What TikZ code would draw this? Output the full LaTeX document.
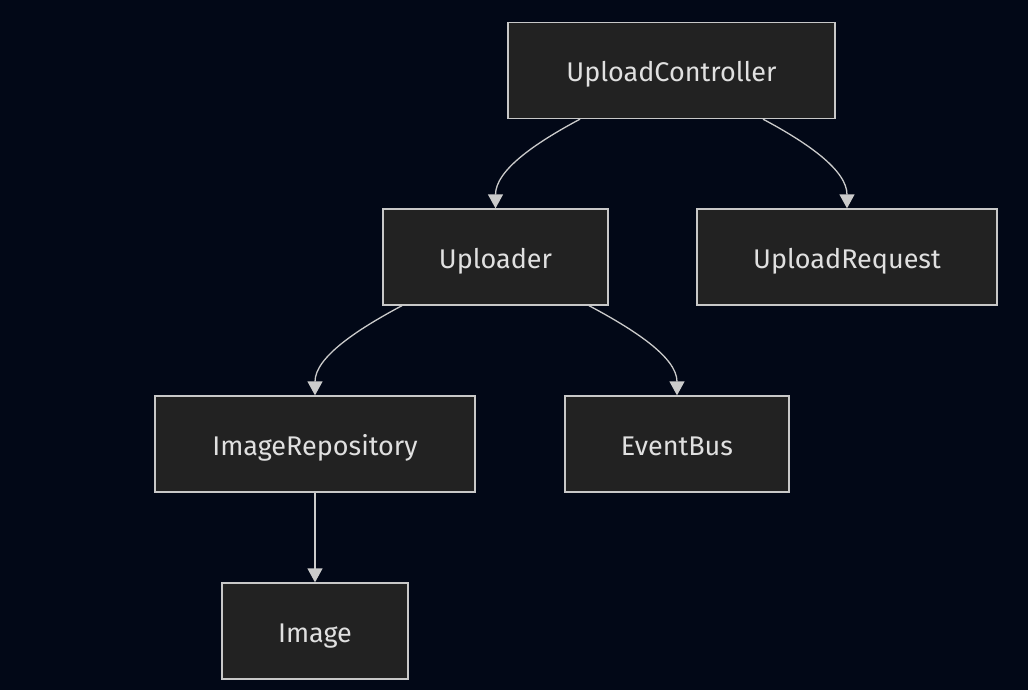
\documentclass[tikz,border=0pt]{standalone}
\usepackage{fontspec}
\setmainfont{Fira Sans}
\usetikzlibrary{arrows.meta,calc}
\definecolor{bg}{HTML}{020817}
\definecolor{boxfill}{HTML}{222222}
\definecolor{boxline}{HTML}{C8C8C8}
\definecolor{txt}{HTML}{E0E0E0}

\begin{document}
\begin{tikzpicture}[x=1pt,y=-1pt,
    cls/.style={draw=boxline,fill=boxfill,line width=1.3pt,minimum height=96pt,
      inner sep=0pt,text height=23pt,text depth=0pt,text=txt,font=\fontsize{27}{32}\selectfont},
    dep/.style={draw=boxline!95!white,line width=1.3pt,-{Triangle[length=14pt,width=15pt]}}]
    \fill[bg] (0,0) rectangle (1028,690);
    % classes
    \node[cls,minimum width=327pt] (ctrl) at (671.5,70.5) {UploadController};
    \node[cls,minimum width=225pt] (upl) at (495.5,257) {Uploader};
    \node[cls,minimum width=300pt] (req) at (847,257) {UploadRequest};
    \node[cls,minimum width=320pt] (repo) at (315,444) {ImageRepository};
    \node[cls,minimum width=224pt] (bus) at (677,444) {EventBus};
    \node[cls,minimum width=186pt] (img) at (315,631) {Image};
    % dependencies
    \draw[dep] ($(ctrl.south)+(-91.5,0)$) .. controls +(-45,24) and +(0,-38) .. (upl.north);
    \draw[dep] ($(ctrl.south)+(91.5,0)$) .. controls +(45,24) and +(0,-38) .. (req.north);
    \draw[dep] ($(upl.south)+(-93.5,0)$) .. controls +(-45,24) and +(0,-38) .. (repo.north);
    \draw[dep] ($(upl.south)+(93.5,0)$) .. controls +(45,24) and +(0,-38) .. (bus.north);
    \draw[dep] (repo.south) -- (img.north);
\end{tikzpicture}
\end{document}
